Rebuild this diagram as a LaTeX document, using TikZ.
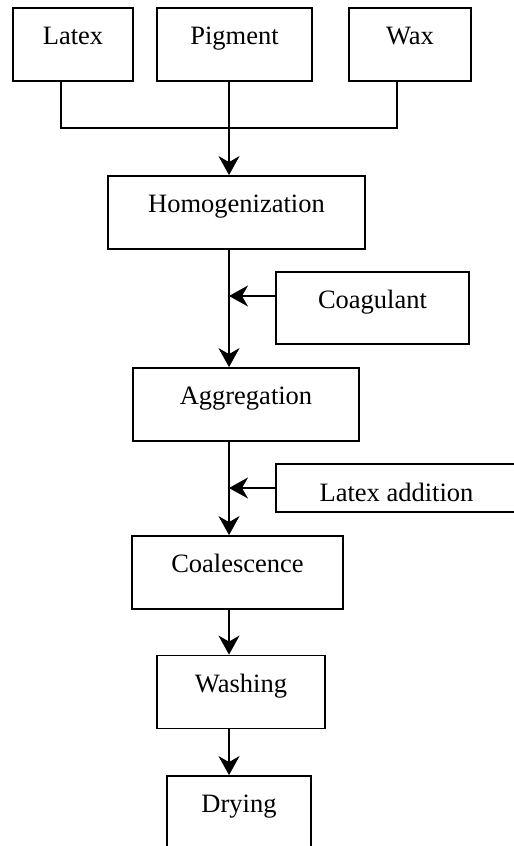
\documentclass[tikz,border=0pt]{standalone}
\usepackage{fontspec}
\setmainfont{Liberation Serif}
\usetikzlibrary{arrows.meta}
\tikzset{
    stage/.style={draw,line width=1.8pt,minimum height=73pt,inner sep=0pt,
        text height=12pt,text depth=12pt,font=\fontsize{26.5}{30}\selectfont},
    flow/.style={line width=1.8pt,-{Stealth[length=19pt,width=21pt,inset=6pt]}},
    feed/.style={line width=1.8pt}
}
\begin{document}
\begin{tikzpicture}[x=1pt,y=-1pt]
    \useasboundingbox (0,0) rectangle (514,846);
    \coordinate (spine) at (229,0);
    % raw materials
    \node[stage,minimum width=120pt] (lat) at (73,44.5) {Latex};
    \node[stage,minimum width=155pt] (pig) at (234.5,44.5) {Pigment};
    \node[stage,minimum width=122pt] (wax) at (410,44.5) {Wax};
    % process steps
    \node[stage,minimum width=257pt] (hom) at (236.5,212.5) {Homogenization};
    \node[stage,minimum width=226pt] (agg) at (246,404.5) {Aggregation};
    \node[stage,minimum width=211pt] (coal) at (237.5,572.5) {Coalescence};
    \node[stage,minimum width=168pt] (wash) at (241,692) {Washing};
    \node[stage,minimum width=144pt] (dry) at (239,812.5) {Drying};
    % additions
    \node[stage,minimum width=193pt,minimum height=72pt] (coag) at (372.5,308) {Coagulant};
    \node[stage,minimum width=241pt,minimum height=48pt,
        text height=26pt,text depth=0pt] (ladd) at (396.5,488) {Latex addition};
    % connectors
    \coordinate (mix) at (229,128);
    \draw[feed] ([xshift=-12pt]lat.south) |- (mix) -| ([xshift=-13pt]wax.south);
    \draw[flow] (pig.south -| spine) -- (hom.north -| spine);
    \draw[flow] (hom.south -| spine) -- (agg.north -| spine);
    \coordinate (coagin) at ([yshift=12pt]coag.west);
    \draw[flow] (coagin) -- (coagin -| spine);
    \draw[flow] (agg.south -| spine) -- (coal.north -| spine);
    \draw[flow] (ladd.west) -- (ladd.west -| spine);
    \draw[flow] (coal.south -| spine) -- (wash.north -| spine);
    \draw[flow] (wash.south -| spine) -- (dry.north -| spine);
\end{tikzpicture}
\end{document}
